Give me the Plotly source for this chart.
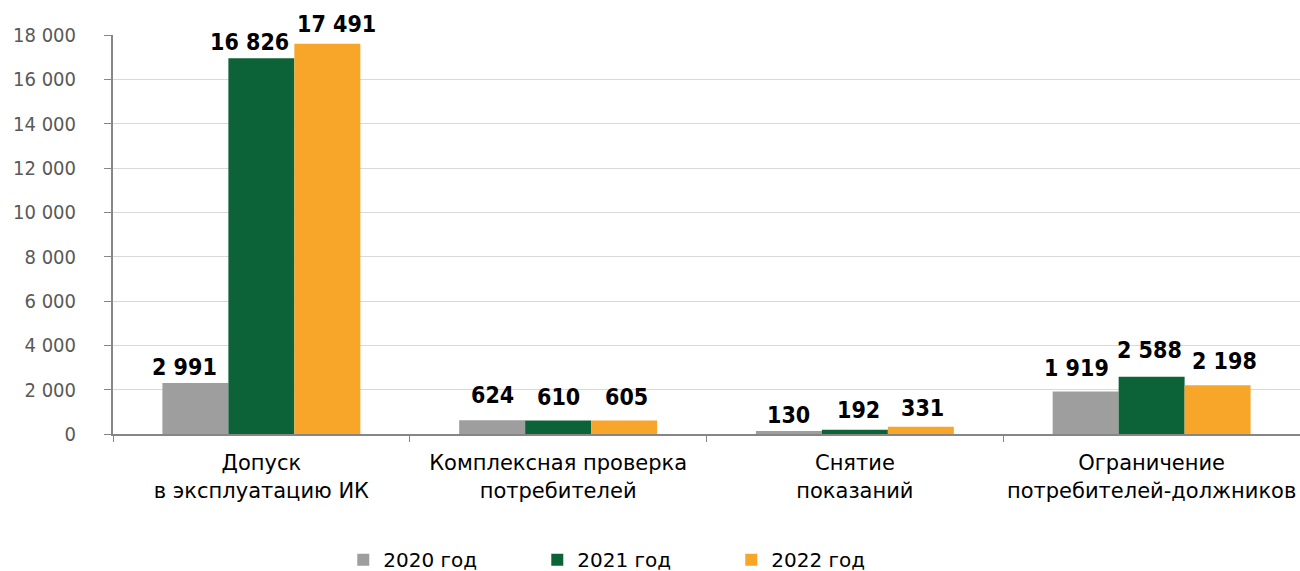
import plotly.graph_objects as go

categories = [
    "Допуск<br>в эксплуатацию ИК",
    "Комплексная проверка<br>потребителей",
    "Снятие<br>показаний",
    "Ограничение<br>потребителей-должников",
]
series_names = ["2020 год", "2021 год", "2022 год"]
# values printed on the labels
labels_2020 = [2991, 624, 130, 1919]
labels_2021 = [16826, 610, 192, 2588]
labels_2022 = [17491, 605, 331, 2198]
# bar heights as drawn in the picture
heights_2020 = [2300, 624, 130, 1919]
heights_2021 = [16950, 610, 192, 2588]
heights_2022 = [17600, 605, 331, 2198]
colors = ["#9E9E9E", "#0C6337", "#F8A62A"]
y_ticks = [0, 2000, 4000, 6000, 8000, 10000, 12000, 14000, 16000, 18000]

# label placement tweaks (pixels): horizontal nudge and gap above bar
label_dx = [[-11, 0, 0, -9], [-12, 0, 4, -2], [9, 2, 2, 7]]
label_gap = [[8, 17, 8, 15], [8, 15, 12, 19], [12, 16, 11, 16]]

FONT = "DejaVu Sans Condensed, DejaVu Sans, sans-serif"
FONT_WIDE = "DejaVu Sans, sans-serif"
BARGAP = 0.333


def fmt(v):
    return f"{v:,}".replace(",", " ")


fig = go.Figure()
for name, h, col in zip(series_names,
                        [heights_2020, heights_2021, heights_2022], colors):
    fig.add_trace(go.Bar(
        x=categories, y=h, name=name,
        marker=dict(color=col, line=dict(width=0)),
        hoverinfo="x+y",
    ))

bar_w = (1 - BARGAP) / len(series_names)
for k, (h, lab) in enumerate(zip([heights_2020, heights_2021, heights_2022],
                                 [labels_2020, labels_2021, labels_2022])):
    for i, (hv, lv) in enumerate(zip(h, lab)):
        fig.add_annotation(
            x=i + (k - 1) * bar_w, y=hv, xref="x", yref="y",
            text=f"<b>{fmt(lv)}</b>", showarrow=False,
            xanchor="center", yanchor="bottom",
            xshift=label_dx[k][i], yshift=label_gap[k][i] - 7,
            font=dict(family=FONT, size=23, color="#000000"),
        )

fig.update_layout(
    width=1300, height=571,
    margin=dict(l=113, r=0, t=35, b=137, autoexpand=False),
    paper_bgcolor="white", plot_bgcolor="white",
    barmode="group", bargap=BARGAP, bargroupgap=0,
    font=dict(family=FONT, size=20, color="#000000"),
    showlegend=True,
    legend=dict(orientation="h", x=0.194, xanchor="left", y=-0.315, yanchor="middle",
                font=dict(family=FONT_WIDE, size=20, color="#000000"),
                entrywidth=149, entrywidthmode="pixels", traceorder="normal"),
)
fig.update_xaxes(
    automargin=False, tickangle=0,
    showline=True, linecolor="#868686", linewidth=2,
    ticks="outside", tickson="boundaries", ticklen=6, tickcolor="#868686",
    tickfont=dict(family=FONT_WIDE, size=21, color="#000000"),
    ticklabelstandoff=9,
    showgrid=False,
)
fig.update_yaxes(
    automargin=False,
    range=[0, 18000], tickvals=y_ticks, ticktext=[fmt(v) for v in y_ticks],
    showline=True, linecolor="#868686", linewidth=2,
    ticks="outside", ticklen=7, tickcolor="#868686",
    tickfont=dict(family=FONT, size=20, color="#595959"),
    ticklabelstandoff=24,
    showgrid=True, gridcolor="#D9D9D9", gridwidth=1,
    zeroline=False,
)
fig.write_html("out.html", config={"displayModeBar": False},
               post_script="document.body.style.margin='0';")
